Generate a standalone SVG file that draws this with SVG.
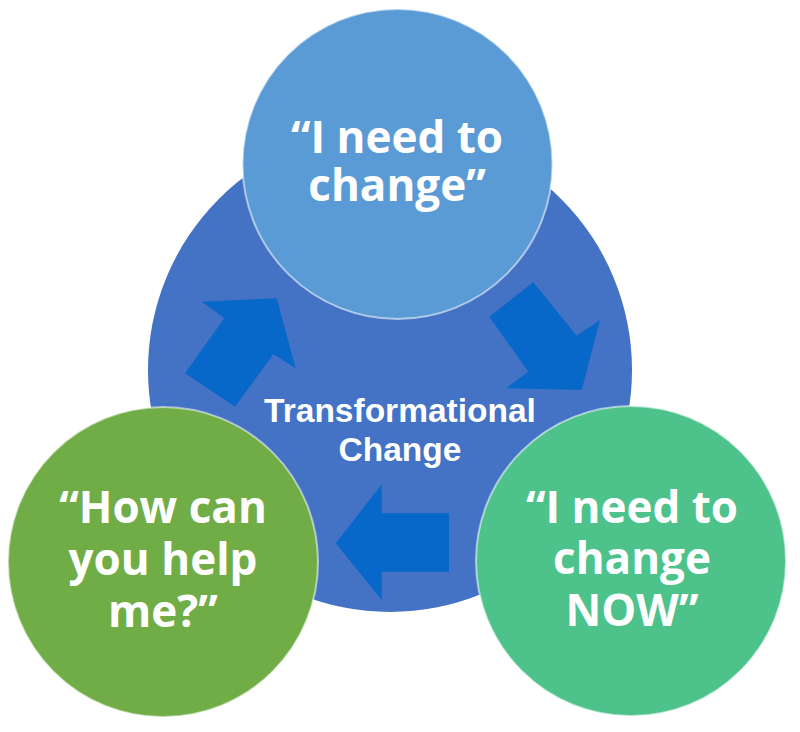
<svg xmlns="http://www.w3.org/2000/svg" width="800" height="732" viewBox="0 0 800 732">
<style>
.node{stroke:#ffffff;stroke-opacity:0.55;stroke-width:2}
.arrow{fill:#0868C9}
.quote{font-family:"Open Sans","Noto Sans","Liberation Sans",sans-serif;font-weight:bold;font-size:44px;fill:#ffffff;text-anchor:middle}
.center{font-family:"Liberation Sans",Arial,sans-serif;font-weight:bold;font-size:33.5px;fill:#ffffff;text-anchor:middle}
</style>
<rect width="800" height="732" fill="#ffffff"/>
<g id="core">
<circle cx="390" cy="370" r="242" fill="#4472C4"/>
<text class="center" x="400" y="422">Transformational</text>
<text class="center" x="400" y="461">Change</text>
</g>
<g id="connectors">
<polygon class="arrow" points="201.7,301.7 276.7,298.3 295.7,368.3 273.3,354.3 235,406.7 185,373.3 224.3,318.3"/>
<polygon class="arrow" points="533.3,282.3 489.3,316.7 528.3,371.7 506,388.3 581.7,390 600,320 576.7,335.7"/>
<polygon class="arrow" points="335.7,543.3 381.7,484.3 381.7,513.3 449,513.3 449,571.7 381.7,571.7 381.7,600"/>
</g>
<g id="need">
<circle class="node" cx="397.5" cy="164" r="155" fill="#5B9BD5"/>
<text class="quote" x="397" y="153">“I need to</text>
<text class="quote" x="397" y="201">change”</text>
</g>
<g id="help">
<circle class="node" cx="163" cy="562" r="155" fill="#70AD47"/>
<text class="quote" x="163" y="523">“How can</text>
<text class="quote" x="163" y="575">you help</text>
<text class="quote" x="163" y="627">me?”</text>
</g>
<g id="now">
<circle class="node" cx="631" cy="561" r="155" fill="#4DC28A"/>
<text class="quote" x="632" y="523">“I need to</text>
<text class="quote" x="632" y="574">change</text>
<text class="quote" x="632" y="626">NOW”</text>
</g>
</svg>
